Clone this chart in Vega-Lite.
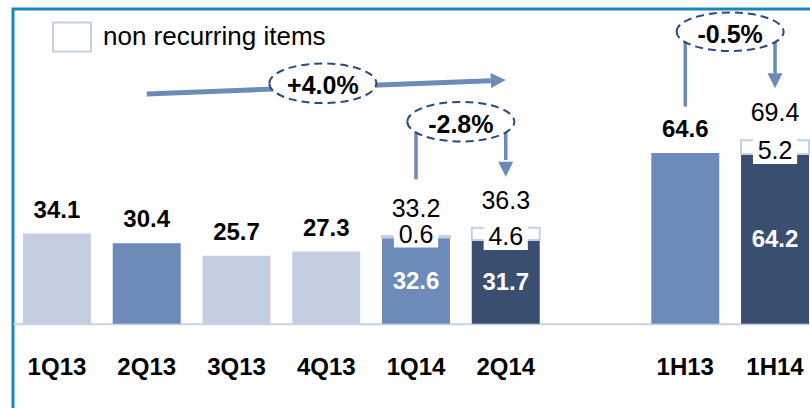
{
  "$schema": "https://vega.github.io/schema/vega-lite/v6.json",
  "width": 806,
  "height": 410,
  "autosize": {"type": "none"},
  "padding": {"left": 13, "top": 9, "right": -9, "bottom": -11},
  "background": "#ffffff",
  "config": {
    "font": "Liberation Sans",
    "view": {"stroke": "#1787c0", "strokeWidth": 3},
    "axis": {"grid": false}
  },
  "data": {
    "values": [
      {"period": "1Q13", "recurring": 34.1, "nonrec": null, "total": 34.1, "shade": "light"},
      {"period": "2Q13", "recurring": 30.4, "nonrec": null, "total": 30.4, "shade": "mid"},
      {"period": "3Q13", "recurring": 25.7, "nonrec": null, "total": 25.7, "shade": "light"},
      {"period": "4Q13", "recurring": 27.3, "nonrec": null, "total": 27.3, "shade": "light"},
      {"period": "1Q14", "recurring": 32.6, "nonrec": 0.6, "total": 33.2, "shade": "mid"},
      {"period": "2Q14", "recurring": 31.7, "nonrec": 4.6, "total": 36.3, "shade": "dark"},
      {"period": "1H13", "recurring": 64.6, "nonrec": null, "total": 64.6, "shade": "mid"},
      {"period": "1H14", "recurring": 64.2, "nonrec": 5.2, "total": 69.4, "shade": "dark"}
    ]
  },
  "layer": [
    {
      "mark": {"type": "bar"},
      "encoding": {
        "x": {
          "field": "period", "type": "nominal",
          "scale": {"domain": ["1Q13", "2Q13", "3Q13", "4Q13", "1Q14", "2Q14", " ", "1H13", "1H14"], "paddingInner": 0.243, "paddingOuter": 0.1114},
          "axis": {
            "orient": "bottom", "offset": -95.2, "title": null, "ticks": false,
            "domain": true, "domainColor": "#c8d2e5", "domainWidth": 2,
            "labelFontSize": 24, "labelFontWeight": "bold", "labelColor": "#000000",
            "labelPadding": 32, "labelAngle": 0, "labelFont": "Liberation Sans"
          }
        },
        "y": {"field": "recurring", "type": "quantitative", "scale": {"domain": [-36, 119], "nice": false, "zero": false}, "axis": null},
        "color": {
          "field": "shade", "type": "nominal",
          "scale": {"domain": ["light", "mid", "dark"], "range": ["#c3cfe1", "#6d8bb8", "#3a4f70"]},
          "legend": null
        }
      }
    },
    {
      "transform": [{"filter": {"field": "nonrec", "valid": true}}],
      "mark": {"type": "rect", "stroke": "#c5d1e3", "strokeWidth": 2},
      "encoding": {
        "x": {"field": "period", "type": "nominal"},
        "y": {"field": "recurring", "type": "quantitative"},
        "y2": {"field": "total"},
        "fill": {
          "datum": "non recurring items", "type": "nominal",
          "scale": {"range": ["#ffffff"]},
          "legend": {
            "orient": "none", "legendX": 39, "legendY": 8, "title": null, "padding": 0,
            "symbolType": "M -1,-0.76 H 1 V 0.76 H -1 Z", "symbolSize": 1444,
            "symbolStrokeColor": "#c5d1e3", "symbolStrokeWidth": 2, "symbolFillColor": "#ffffff",
            "labelFontSize": 26, "labelFont": "Liberation Sans", "labelColor": "#000000",
            "labelOffset": 11, "labelLimit": 0
          }
        }
      }
    },
    {
      "transform": [{"filter": {"field": "nonrec", "valid": true}}],
      "mark": {"type": "bar", "color": "#ffffff", "width": {"band": 0.65}, "yOffset": -16, "y2Offset": 10},
      "encoding": {
        "x": {"field": "period", "type": "nominal"},
        "y": {"field": "recurring", "type": "quantitative"},
        "y2": {"field": "recurring"}
      }
    },
    {
      "transform": [{"filter": "datum.nonrec == null"}],
      "mark": {"type": "text", "fontSize": 24, "fontWeight": "bold", "color": "#000000", "baseline": "middle", "dy": -23},
      "encoding": {
        "x": {"field": "period", "type": "nominal"},
        "y": {"field": "recurring", "type": "quantitative"},
        "text": {"field": "recurring", "type": "quantitative", "format": ".1f"}
      }
    },
    {
      "transform": [{"filter": {"field": "nonrec", "valid": true}}],
      "mark": {"type": "text", "fontSize": 25, "color": "#000000", "baseline": "middle", "dy": -27},
      "encoding": {
        "x": {"field": "period", "type": "nominal"},
        "y": {"field": "total", "type": "quantitative"},
        "text": {"field": "total", "type": "quantitative", "format": ".1f"}
      }
    },
    {
      "transform": [{"filter": {"field": "nonrec", "valid": true}}],
      "mark": {"type": "text", "fontSize": 25, "color": "#000000", "baseline": "middle", "dy": -2.5},
      "encoding": {
        "x": {"field": "period", "type": "nominal"},
        "y": {"field": "recurring", "type": "quantitative"},
        "text": {"field": "nonrec", "type": "quantitative", "format": ".1f"}
      }
    },
    {
      "transform": [{"filter": {"field": "nonrec", "valid": true}}],
      "mark": {"type": "text", "fontSize": 24, "fontWeight": "bold", "color": "#ffffff", "baseline": "middle", "dy": 1.5},
      "encoding": {
        "x": {"field": "period", "type": "nominal"},
        "y": {"field": "recurring", "type": "quantitative", "stack": "zero", "bandPosition": 0.5},
        "text": {"field": "recurring", "type": "quantitative", "format": ".1f"}
      }
    },
    {
      "data": {"values": [{"label": "+4.0%"}]},
      "layer": [
        {
          "mark": {"type": "rule", "color": "#6d8bb8", "strokeWidth": 5},
          "encoding": {
            "x": {"datum": "2Q14", "type": "nominal", "bandPosition": 0.28},
            "x2": {"datum": "2Q13"},
            "y": {"datum": 91.9, "type": "quantitative"},
            "y2": {"datum": 86.9}
          }
        },
        {
          "mark": {"type": "point", "shape": "M 0,0 L -1,-2 L 1,-2 Z", "size": 225, "filled": true, "fill": "#6d8bb8", "strokeWidth": 0, "opacity": 1, "angle": -92.4},
          "encoding": {
            "x": {"datum": "2Q14", "type": "nominal", "bandPosition": 0.5},
            "y": {"datum": 92.2, "type": "quantitative"}
          }
        },
        {
          "mark": {"type": "point", "shape": "M -1,0 A 1,0.37 0 1,1 1,0 A 1,0.37 0 1,1 -1,0 Z", "size": 11449, "filled": true, "fill": "#ffffff", "stroke": "#2c4a7c", "strokeWidth": 2, "strokeDash": [8, 5], "opacity": 1},
          "encoding": {
            "x": {"datum": "4Q13", "type": "nominal", "bandPosition": 0.45},
            "y": {"datum": 90.9, "type": "quantitative"}
          }
        },
        {
          "mark": {"type": "text", "fontSize": 25, "fontWeight": "bold", "color": "#000000", "baseline": "middle", "dy": 3},
          "encoding": {
            "x": {"datum": "4Q13", "type": "nominal", "bandPosition": 0.45},
            "y": {"datum": 90.9, "type": "quantitative"},
            "text": {"field": "label"}
          }
        }
      ]
    },
    {
      "data": {"values": [{"label": "-2.8%"}]},
      "layer": [
        {
          "mark": {"type": "rule", "color": "#6d8bb8", "strokeWidth": 3.5},
          "encoding": {
            "x": {"datum": "1Q14", "type": "nominal", "bandPosition": 0.5},
            "y": {"datum": 76.4, "type": "quantitative"},
            "y2": {"datum": 54.6}
          }
        },
        {
          "mark": {"type": "rule", "color": "#6d8bb8", "strokeWidth": 3.5},
          "encoding": {
            "x": {"datum": "2Q14", "type": "nominal", "bandPosition": 0.5},
            "y": {"datum": 76.4, "type": "quantitative"},
            "y2": {"datum": 61.9}
          }
        },
        {
          "mark": {"type": "point", "shape": "M 0,0 L -1,-2 L 1,-2 Z", "size": 225, "filled": true, "fill": "#6d8bb8", "strokeWidth": 0, "opacity": 1},
          "encoding": {
            "x": {"datum": "2Q14", "type": "nominal", "bandPosition": 0.5},
            "y": {"datum": 55.6, "type": "quantitative"}
          }
        },
        {
          "mark": {"type": "point", "shape": "M -1,0 A 1,0.37 0 1,1 1,0 A 1,0.37 0 1,1 -1,0 Z", "size": 11449, "filled": true, "fill": "#ffffff", "stroke": "#2c4a7c", "strokeWidth": 2, "strokeDash": [8, 5], "opacity": 1},
          "encoding": {
            "x": {"datum": "1Q14", "type": "nominal", "bandPosition": 1.16},
            "y": {"datum": 76.4, "type": "quantitative"}
          }
        },
        {
          "mark": {"type": "text", "fontSize": 25, "fontWeight": "bold", "color": "#000000", "baseline": "middle", "dy": 3},
          "encoding": {
            "x": {"datum": "1Q14", "type": "nominal", "bandPosition": 1.16},
            "y": {"datum": 76.4, "type": "quantitative"},
            "text": {"field": "label"}
          }
        }
      ]
    },
    {
      "data": {"values": [{"label": "-0.5%"}]},
      "layer": [
        {
          "mark": {"type": "rule", "color": "#6d8bb8", "strokeWidth": 3.5},
          "encoding": {
            "x": {"datum": "1H13", "type": "nominal", "bandPosition": 0.5},
            "y": {"datum": 110.4, "type": "quantitative"},
            "y2": {"datum": 82.1}
          }
        },
        {
          "mark": {"type": "rule", "color": "#6d8bb8", "strokeWidth": 3.5},
          "encoding": {
            "x": {"datum": "1H14", "type": "nominal", "bandPosition": 0.5},
            "y": {"datum": 110.4, "type": "quantitative"},
            "y2": {"datum": 94.7}
          }
        },
        {
          "mark": {"type": "point", "shape": "M 0,0 L -1,-2 L 1,-2 Z", "size": 225, "filled": true, "fill": "#6d8bb8", "strokeWidth": 0, "opacity": 1},
          "encoding": {
            "x": {"datum": "1H14", "type": "nominal", "bandPosition": 0.5},
            "y": {"datum": 89.0, "type": "quantitative"}
          }
        },
        {
          "mark": {"type": "point", "shape": "M -1,0 A 1,0.36 0 1,1 1,0 A 1,0.36 0 1,1 -1,0 Z", "size": 11449, "filled": true, "fill": "#ffffff", "stroke": "#2c4a7c", "strokeWidth": 2, "strokeDash": [8, 5], "opacity": 1},
          "encoding": {
            "x": {"datum": "1H13", "type": "nominal", "bandPosition": 1.16},
            "y": {"datum": 110.4, "type": "quantitative"}
          }
        },
        {
          "mark": {"type": "text", "fontSize": 25, "fontWeight": "bold", "color": "#000000", "baseline": "middle", "dy": 3},
          "encoding": {
            "x": {"datum": "1H13", "type": "nominal", "bandPosition": 1.16},
            "y": {"datum": 110.4, "type": "quantitative"},
            "text": {"field": "label"}
          }
        }
      ]
    }
  ]
}
